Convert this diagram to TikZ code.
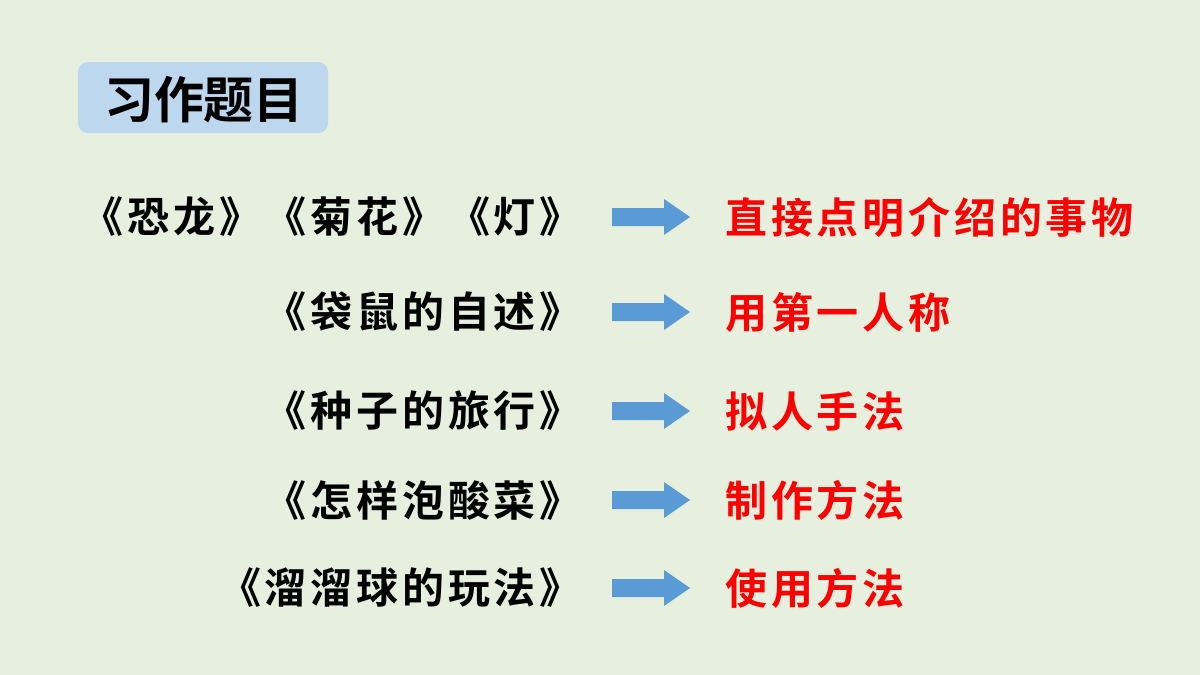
\documentclass[tikz,border=0pt]{standalone}
\usepackage{fontspec}
\newfontfamily\cjk{Noto Sans CJK SC}[BoldFont={* Bold}]
\newfontfamily\cjksp{Noto Sans CJK SC}[BoldFont={* Bold},LetterSpace=9]
\definecolor{bg}{HTML}{E7F0DF}
\definecolor{tbox}{HTML}{BDD7EE}
\definecolor{arr}{HTML}{5B9BD5}
\begin{document}
\begin{tikzpicture}[x=0.5pt,y=-0.5pt,
  lefttxt/.style={anchor=east,font=\cjksp\bfseries\fontsize{21}{24}\selectfont,inner sep=0pt},
  righttxt/.style={anchor=west,font=\cjksp\bfseries\fontsize{21}{24}\selectfont,text=red,inner sep=0pt},
  arrowfill/.style={fill=arr}]
\fill[bg] (0,0) rectangle (1200,675);
\useasboundingbox (0,0) rectangle (1200,675);
\fill[tbox,rounded corners=5pt] (78,62) rectangle (328,133);
\node[font=\cjk\bfseries\fontsize{25}{28}\selectfont,inner sep=0pt] (title) at (204,100) {习作题目};
\foreach \y/\l/\r/\i in {217/《恐龙》《菊花》《灯》/直接点明介绍的事物/1,
                        312/《袋鼠的自述》/用第一人称/2,
                        411/《种子的旅行》/拟人手法/3,
                        500/《怎样泡酸菜》/制作方法/4,
                        588/《溜溜球的玩法》/使用方法/5}{
  \node[lefttxt] (L\i) at (582,\y) {\l};
  \fill[arrowfill] (612,\y-9) -- (664,\y-9) -- (664,\y-18) -- (690,\y) -- (664,\y+18) -- (664,\y+9) -- (612,\y+9) -- cycle;
  \node[righttxt] (R\i) at (725,\y) {\r};
}
\end{tikzpicture}
\end{document}
